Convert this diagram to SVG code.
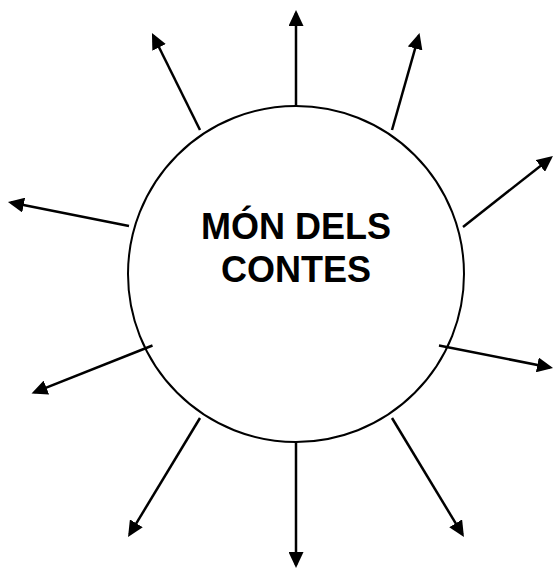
<svg xmlns="http://www.w3.org/2000/svg" width="554" height="569" viewBox="0 0 554 569">
<style>
.arrow{stroke:#000;stroke-width:2.5;fill:none;marker-end:url(#ah)}
.node{fill:#fff;stroke:#000;stroke-width:2}
.label{font-family:"Liberation Sans",Arial,sans-serif;font-weight:bold;font-size:36px;fill:#000;text-anchor:middle}
</style>
<defs>
<marker id="ah" viewBox="0 0 16 15" refX="13" refY="7.5" markerWidth="16" markerHeight="15" markerUnits="userSpaceOnUse" orient="auto">
<path d="M0,0 L16,7.5 L0,15 z" fill="#000"/>
</marker>
</defs>
<rect width="554" height="569" fill="#fff"/>
<g id="center">
<circle class="node" cx="296" cy="274" r="168"/>
<text class="label" x="296" y="239">MÓN DELS</text>
<text class="label" x="296" y="282">CONTES</text>
</g>
<g id="connectors">
<line class="arrow" x1="296" y1="106" x2="296" y2="13"/>
<line class="arrow" x1="200" y1="130" x2="153.3" y2="35.7"/>
<line class="arrow" x1="392" y1="130" x2="418.7" y2="35.9"/>
<line class="arrow" x1="463" y1="227" x2="550.6" y2="157.9"/>
<line class="arrow" x1="439" y1="345.5" x2="550.1" y2="367.4"/>
<line class="arrow" x1="129" y1="226" x2="10.9" y2="202.6"/>
<line class="arrow" x1="152.5" y1="345.5" x2="34.3" y2="392.4"/>
<line class="arrow" x1="200" y1="418" x2="129.6" y2="534.4"/>
<line class="arrow" x1="296" y1="442" x2="296" y2="565"/>
<line class="arrow" x1="392" y1="418" x2="462.4" y2="534.4"/>
</g>
</svg>
